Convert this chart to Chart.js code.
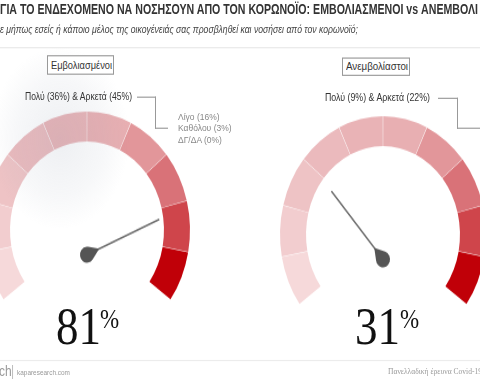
<!DOCTYPE html>
<html>
<head>
<meta charset="utf-8">
<script src="https://cdn.jsdelivr.net/npm/chart.js@4.4.1/dist/chart.umd.min.js"></script>
<style>
  html, body { margin: 0; padding: 0; background: #fff; }
  body { width: 480px; height: 384px; overflow: hidden; position: relative; }
  /* the whole picture is slightly stretched vertically */
  #page { position: absolute; left: 0; top: 0; width: 480px; height: 334px; transform: scaleY(1.15); transform-origin: 0 0; }
  #page div, #page span { position: absolute; white-space: nowrap; }
  .fit { transform-origin: 0 50%; }
  #title { left: 0; top: 0.5px; font: bold 13px "Liberation Sans Narrow", "Arial Narrow", "Liberation Sans", sans-serif; color: #333; line-height: 13px; }
  #subtitle { left: 0; top: 22px; font: italic 9px "Liberation Sans", Arial, sans-serif; color: #444; line-height: 9px; }
  .rule { left: 0; width: 480px; height: 0; border-top: 1px solid #e8e8e8; }
  .box { border: 1px solid #999; box-sizing: border-box; background: #fff; }
  .box span { left: 3px; top: 0; font: 10px "Liberation Sans", Arial, sans-serif; color: #333; }
  .main { font: 9.5px "Liberation Sans", Arial, sans-serif; color: #333; line-height: 10px; }
  .minor { font: 8.5px "Liberation Sans", Arial, sans-serif; color: #888; line-height: 9px; }
  .conn { border-top: 1px solid #999; border-right: 1px solid #999; box-sizing: border-box; }
  .connh { height: 0; border-top: 1px solid #999; }
  .big { font: 45px "Liberation Serif", "Times New Roman", serif; color: #111; line-height: 45px; }
  .pct { font: 23px "Liberation Serif", "Times New Roman", serif; color: #111; line-height: 23px; }
  .gauge { width: 240px; height: 240px; }
  #virus { left: -10px; top: 40px; width: 140px; height: 160px; pointer-events: none;
           background: radial-gradient(ellipse at 50% 50%, rgba(150,160,178,0.17), rgba(150,160,178,0.08) 45%, rgba(255,255,255,0) 70%); }
  .foot { font: 12px "Liberation Sans", Arial, sans-serif; color: #999; line-height: 12px; }
</style>
</head>
<body>
<div id="page">
  <div id="title" class="fit" data-w="478">ΓΙΑ ΤΟ ΕΝΔΕΧΟΜΕΝΟ ΝΑ ΝΟΣΗΣΟΥΝ ΑΠΟ ΤΟΝ ΚΟΡΩΝΟΪΟ: ΕΜΒΟΛΙΑΣΜΕΝΟΙ vs ΑΝΕΜΒΟΛΙ</div>
  <div id="subtitle" class="fit" data-w="358">ε μήπως εσείς ή κάποιο μέλος της οικογένειάς σας προσβληθεί και νοσήσει από τον κορωνοϊό;</div>
  <div class="rule" style="top:41px"></div>

  <div style="left:-33px; top:59px"><canvas id="gaugeA" class="gauge" width="240" height="240"></canvas></div>
  <div style="left:263px; top:63px"><canvas id="gaugeB" class="gauge" width="240" height="240"></canvas></div>
  <div id="virus"></div>

  <div class="box" style="left:47px; top:48px; width:67px; height:17px"><span id="boxA" class="fit" data-w="61" style="line-height:15px"></span></div>
  <div class="box" style="left:342px; top:49.5px; width:68px; height:16px"><span id="boxB" class="fit" data-w="62" style="line-height:14px"></span></div>

  <div id="mainA" class="main fit" data-w="107" style="left:25px; top:79px"></div>
  <div class="conn" style="left:137px; top:84px; width:19px; height:28px"></div>
  <div class="connh" style="left:155px; top:111px; width:13px"></div>
  <div id="minorA" style="left:178px; top:97px"></div>

  <div id="mainB" class="main fit" data-w="105" style="left:325px; top:80px"></div>
  <div class="conn" style="left:438px; top:85px; width:20px; height:27px"></div>
  <div class="connh" style="left:457px; top:111px; width:30px"></div>

  <span id="bigA" class="big" style="left:56px; top:262px"></span>
  <span id="pctA" class="pct" style="left:100px; top:266px">%</span>
  <span id="bigB" class="big" style="left:355px; top:262px"></span>
  <span id="pctB" class="pct" style="left:400px; top:266px">%</span>

  <div class="rule" style="top:313px; border-top-color:#ececec"></div>
  <span class="foot" style="left:-1px; top:317px">ch</span>
  <span class="foot" style="left:11px; top:317px; color:#bbb">|</span>
  <span class="foot fit" data-w="53" style="left:17px; top:320px; font-size:6.5px; line-height:7px">kaparesearch.com</span>
  <span class="foot fit" data-w="94" style="left:388px; top:319px; font:7.5px 'Liberation Serif', serif; line-height:8px; color:#999">Πανελλαδική έρευνα Covid-19</span>
</div>

<script>
  // Δεδομένα
  var groups = ['Εμβολιασμένοι', 'Ανεμβολίαστοι'];
  var concernedPct = [81, 31];      // Πολύ + Αρκετά
  var muchPct = [36, 9];
  var quitePct = [45, 22];
  var littlePct = [16, null];
  var notAtAllPct = [3, null];
  var dkPct = [0, null];
  var bandValues = [10, 10, 10, 10, 10, 10, 10, 10, 10, 10];

  var bandColors = ['#f6d9da', '#f2cdcf', '#eec3c5', '#ebbabd', '#e9b3b6',
                    '#e8afb2', '#e2969a', '#d97278', '#cf454b', '#c00008'];

  // Βελόνα του μετρητή
  var needlePlugin = {
    id: 'gaugeNeedle',
    afterDatasetsDraw: function (chart, args, opts) {
      var arc = chart.getDatasetMeta(0).data[0];
      if (!arc) return;
      var R = arc.outerRadius;
      var px = arc.x;
      var py = arc.y + opts.dropY * R;
      var deg = opts.startDeg - opts.sweepDeg * opts.value / 100;
      var a = -deg * Math.PI / 180;
      var len = opts.length * R;
      var ctx = chart.ctx;
      ctx.save();
      ctx.strokeStyle = '#6e6e6e';
      ctx.lineWidth = 1.5;
      ctx.beginPath();
      ctx.moveTo(px, py);
      ctx.lineTo(px + len * Math.cos(a), py + len * Math.sin(a));
      ctx.stroke();

      var r = 7;
      var d = 1.9 * r;
      var phi = Math.acos(r / d);
      ctx.fillStyle = '#555';
      ctx.beginPath();
      ctx.arc(px, py, r, a + phi, a - phi + 2 * Math.PI);
      ctx.lineTo(px + d * Math.cos(a), py + d * Math.sin(a));
      ctx.closePath();
      ctx.fill();
      ctx.restore();
    }
  };

  function createGauge(canvasId, value) {
    var ctx = document.getElementById(canvasId).getContext('2d');
    return new Chart(ctx, {
      type: 'doughnut',
      data: {
        labels: bandValues.map(function (v, i) { return 'Ζώνη ' + (i + 1); }),
        datasets: [{
          data: bandValues,
          backgroundColor: bandColors,
          borderWidth: 0,
          spacing: 2
        }]
      },
      options: {
        responsive: false,
        animation: false,
        events: [],
        rotation: -126,
        circumference: 252,
        radius: 102,
        cutout: '74.5%',
        plugins: {
          legend: { display: false },
          tooltip: { enabled: false },
          gaugeNeedle: { value: value, startDeg: 198, sweepDeg: 216, dropY: 0.21, length: 0.77 }
        }
      },
      plugins: [needlePlugin]
    });
  }

  // Κείμενα
  document.getElementById('boxA').textContent = groups[0];
  document.getElementById('boxB').textContent = groups[1];
  document.getElementById('mainA').textContent = 'Πολύ (' + muchPct[0] + '%) & Αρκετά (' + quitePct[0] + '%)';
  document.getElementById('mainB').textContent = 'Πολύ (' + muchPct[1] + '%) & Αρκετά (' + quitePct[1] + '%)';
  var minorLines = [['Λίγο', littlePct[0]], ['Καθόλου', notAtAllPct[0]], ['ΔΓ/ΔΑ', dkPct[0]]];
  var minor = document.getElementById('minorA');
  minorLines.forEach(function (l, i) {
    var s = document.createElement('div');
    s.className = 'minor';
    s.style.left = '0px';
    s.style.top = (i * 10) + 'px';
    s.textContent = l[0] + ' (' + l[1] + '%)';
    minor.appendChild(s);
  });
  document.getElementById('bigA').textContent = concernedPct[0];
  document.getElementById('bigB').textContent = concernedPct[1];

  // Προσαρμογή πλάτους κειμένων
  document.querySelectorAll('.fit').forEach(function (el) {
    var w = el.getBoundingClientRect().width;
    var target = parseFloat(el.getAttribute('data-w'));
    if (w > 0) el.style.transform = 'scaleX(' + (target / w) + ')';
  });

  createGauge('gaugeA', concernedPct[0]);
  createGauge('gaugeB', concernedPct[1]);
</script>
</body>
</html>
